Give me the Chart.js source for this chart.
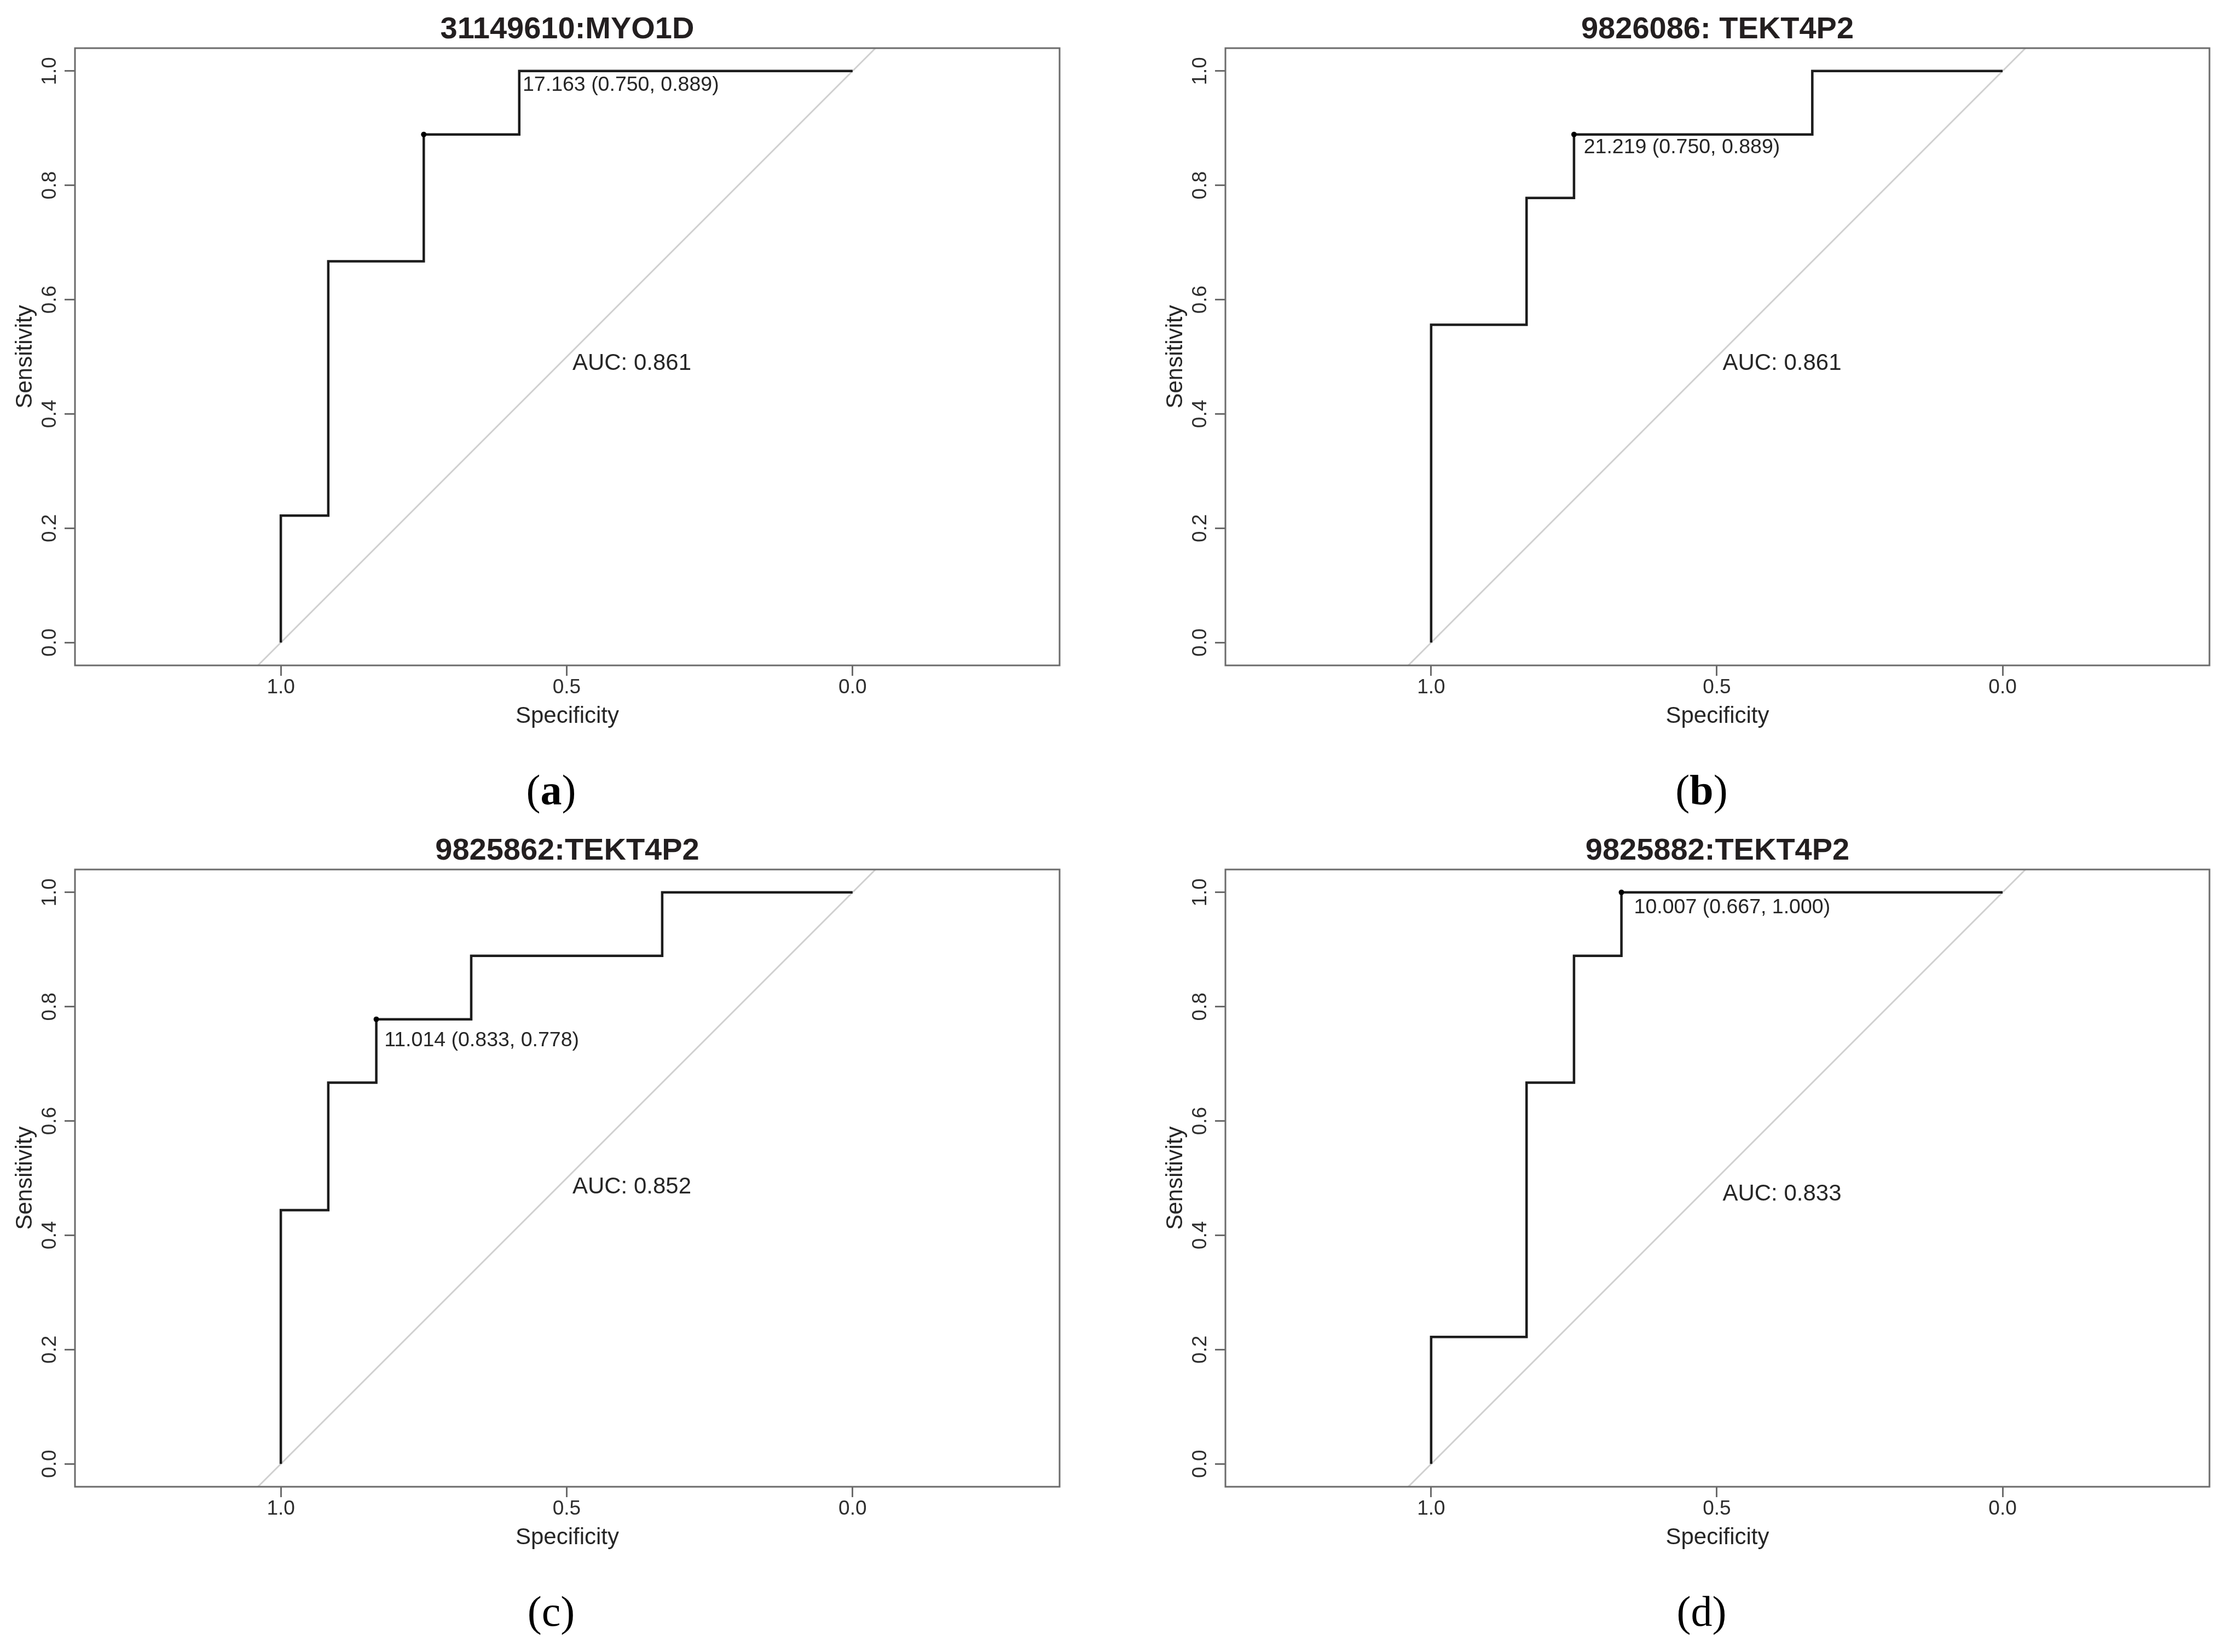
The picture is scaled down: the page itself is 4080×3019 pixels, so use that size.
<!DOCTYPE html>
<html>
<head>
<meta charset="utf-8">
<script src="https://cdn.jsdelivr.net/npm/chart.js@4.4.1/dist/chart.umd.min.js"></script>
<style>
  html, body { margin:0; padding:0; background:#ffffff; width:4080px; height:3019px; overflow:hidden; }
  canvas { position:absolute; }
</style>
</head>
<body>
<canvas id="cA"></canvas>
<canvas id="cB"></canvas>
<canvas id="cC"></canvas>
<canvas id="cD"></canvas>
<script>
// ---------------- DATA ----------------
const titles   = ['31149610:MYO1D', '9826086: TEKT4P2', '9825862:TEKT4P2', '9825882:TEKT4P2'];
const captions = ['a', 'b', 'c', 'd'];

// ROC curve coordinates (specificity, sensitivity)
const specA = [1, 1, 0.917, 0.917, 0.750, 0.750, 0.583, 0.583, 0];
const sensA = [0, 0.222, 0.222, 0.667, 0.667, 0.889, 0.889, 1, 1];

const specB = [1, 1, 0.833, 0.833, 0.750, 0.750, 0.333, 0.333, 0];
const sensB = [0, 0.556, 0.556, 0.778, 0.778, 0.889, 0.889, 1, 1];

const specC = [1, 1, 0.917, 0.917, 0.833, 0.833, 0.667, 0.667, 0.333, 0.333, 0];
const sensC = [0, 0.444, 0.444, 0.667, 0.667, 0.778, 0.778, 0.889, 0.889, 1, 1];

const specD = [1, 1, 0.833, 0.833, 0.750, 0.750, 0.667, 0.667, 0];
const sensD = [0, 0.222, 0.222, 0.667, 0.667, 0.889, 0.889, 1, 1];

// best thresholds
const thresholds = [17.163, 21.219, 11.014, 10.007];
const thrSpec    = [0.750, 0.750, 0.833, 0.667];
const thrSens    = [0.889, 0.889, 0.778, 1.000];

const aucValues  = [0.861, 0.861, 0.852, 0.833];

const xTickValues = [1.0, 0.5, 0.0];
const yTickValues = [0.0, 0.2, 0.4, 0.6, 0.8, 1.0];

// axis limits
const xMin = -0.362, xMax = 1.36;
const yMin = -0.04,  yMax = 1.04;

// ---------------- LAYOUT (positions / styles) ----------------
const layouts = [
  { id:'cA', left:0,    top:0,    width:2040, padRight:104, thrLabel:[0.577, 0.975], aucPos:[0.49, 0.488], bold:true  },
  { id:'cB', left:2102, top:0,    width:1978, padRight:43,  thrLabel:[0.733, 0.866], aucPos:[0.49, 0.488], bold:true  },
  { id:'cC', left:0,    top:1501, width:2040, padRight:104, thrLabel:[0.819, 0.741], aucPos:[0.49, 0.484], bold:false },
  { id:'cD', left:2102, top:1501, width:1978, padRight:43,  thrLabel:[0.645, 0.973], aucPos:[0.49, 0.472], bold:false }
];
const CANVAS_H = 1516;
const FONT = '"Liberation Sans", Arial, Helvetica, sans-serif';
const SERIF = '"Liberation Serif", "Times New Roman", serif';
const AXIS_GREY = '#6b6b6b';
const TEXT_COL = '#262626';

Chart.defaults.font.family = FONT;
Chart.defaults.color = TEXT_COL;

const series = [[specA, sensA], [specB, sensB], [specC, sensC], [specD, sensD]];

const decorPlugin = {
  id: 'rocDecor',
  afterDatasetsDraw(chart, args, opts) {
    const { ctx, chartArea, scales } = chart;
    const { left, top, right, bottom } = chartArea;
    const xs = scales.x, ys = scales.y;
    ctx.save();
    // plot box
    ctx.strokeStyle = AXIS_GREY;
    ctx.lineWidth = 3;
    ctx.strokeRect(left, top, right - left, bottom - top);

    // threshold label
    ctx.fillStyle = TEXT_COL;
    ctx.font = '37.5px ' + FONT;
    ctx.textAlign = 'left';
    ctx.textBaseline = 'middle';
    const thrText = opts.thr.toFixed(3) + ' (' + opts.tSpec.toFixed(3) + ', ' + opts.tSens.toFixed(3) + ')';
    ctx.fillText(thrText, xs.getPixelForValue(opts.thrLabel[0]), ys.getPixelForValue(opts.thrLabel[1]));

    // AUC
    ctx.font = '42px ' + FONT;
    ctx.fillText('AUC: ' + opts.auc.toFixed(3), xs.getPixelForValue(opts.aucPos[0]), ys.getPixelForValue(opts.aucPos[1]));

    // caption (x)
    const cx = left + 870, cy = bottom + 234;
    const fReg = '78px ' + SERIF;
    const fLet = (opts.bold ? 'bold ' : '') + '78px ' + SERIF;
    ctx.font = fReg; const wo = ctx.measureText('(').width; const wc = ctx.measureText(')').width;
    ctx.font = fLet; const wl = ctx.measureText(opts.caption).width;
    let sx = cx - (wo + wl + wc) / 2;
    ctx.fillStyle = '#000000';
    ctx.font = fReg; ctx.fillText('(', sx, cy); sx += wo;
    ctx.font = fLet; ctx.fillText(opts.caption, sx, cy); sx += wl;
    ctx.font = fReg; ctx.fillText(')', sx, cy);
    ctx.restore();
  }
};

layouts.forEach((L, i) => {
  const cv = document.getElementById(L.id);
  cv.width = L.width; cv.height = CANVAS_H;
  cv.style.left = L.left + 'px'; cv.style.top = L.top + 'px';
  cv.style.width = L.width + 'px'; cv.style.height = CANVAS_H + 'px';

  const [spec, sens] = series[i];
  const rocPoints = spec.map((s, k) => ({ x: s, y: sens[k] }));
  const chancePoints = [{ x: 1 - yMin, y: yMin }, { x: 1 - yMax, y: yMax }];

  new Chart(cv, {
    type: 'scatter',
    data: {
      datasets: [
        { label: 'threshold', data: [{ x: thrSpec[i], y: thrSens[i] }], order: 0,
          pointRadius: 5, pointBackgroundColor: '#000', pointBorderColor: '#000', pointBorderWidth: 0, showLine: false },
        { label: 'ROC', data: rocPoints, order: 1, showLine: true, borderColor: '#1c1c1c', borderWidth: 4.5,
          pointRadius: 0, fill: false, tension: 0 },
        { label: 'chance', data: chancePoints, order: 2, showLine: true, borderColor: '#d0d0d0', borderWidth: 3,
          pointRadius: 0, fill: false, tension: 0 }
      ]
    },
    options: {
      responsive: false,
      devicePixelRatio: 1,
      animation: false,
      events: [],
      layout: { autoPadding: false, padding: { left: 0, right: L.padRight, top: 0, bottom: 180 } },
      plugins: {
        legend: { display: false },
        tooltip: { enabled: false },
        title: { display: true, text: titles[i], fullSize: false, color: '#231f20',
                 font: { size: 56, weight: 'bold', lineHeight: 1.0 }, padding: { top: 27, bottom: 5 } },
        rocDecor: { thr: thresholds[i], tSpec: thrSpec[i], tSens: thrSens[i], auc: aucValues[i],
                    thrLabel: L.thrLabel, aucPos: L.aucPos, caption: captions[i], bold: L.bold }
      },
      scales: {
        x: {
          type: 'linear', reverse: true, min: xMin, max: xMax,
          afterBuildTicks: s => { s.ticks = xTickValues.map(v => ({ value: v })); },
          afterFit: s => { s.height = 120; },
          ticks: { autoSkip: false, maxRotation: 0, minRotation: 0, padding: 0, color: '#2e2e2e',
                   font: { size: 37 }, callback: v => Number(v).toFixed(1) },
          grid: { drawOnChartArea: false, drawTicks: true, tickLength: 19, tickColor: AXIS_GREY, tickWidth: 3 },
          border: { display: false },
          title: { display: true, text: 'Specificity', color: TEXT_COL, font: { size: 42 }, padding: { top: 0, bottom: 1 } }
        },
        y: {
          type: 'linear', min: yMin, max: yMax,
          afterBuildTicks: s => { s.ticks = yTickValues.map(v => ({ value: v })); },
          afterFit: s => { s.width = 137; },
          ticks: { autoSkip: false, minRotation: 90, maxRotation: 90, crossAlign: 'center', padding: 0,
                   color: '#2e2e2e', font: { size: 37 }, callback: v => Number(v).toFixed(1) },
          grid: { drawOnChartArea: false, drawTicks: true, tickLength: 19, tickColor: AXIS_GREY, tickWidth: 3 },
          border: { display: false },
          title: { display: true, text: 'Sensitivity', color: TEXT_COL, font: { size: 42 }, padding: { top: 21, bottom: 0 } }
        }
      }
    },
    plugins: [decorPlugin]
  });
});
</script>
</body>
</html>
